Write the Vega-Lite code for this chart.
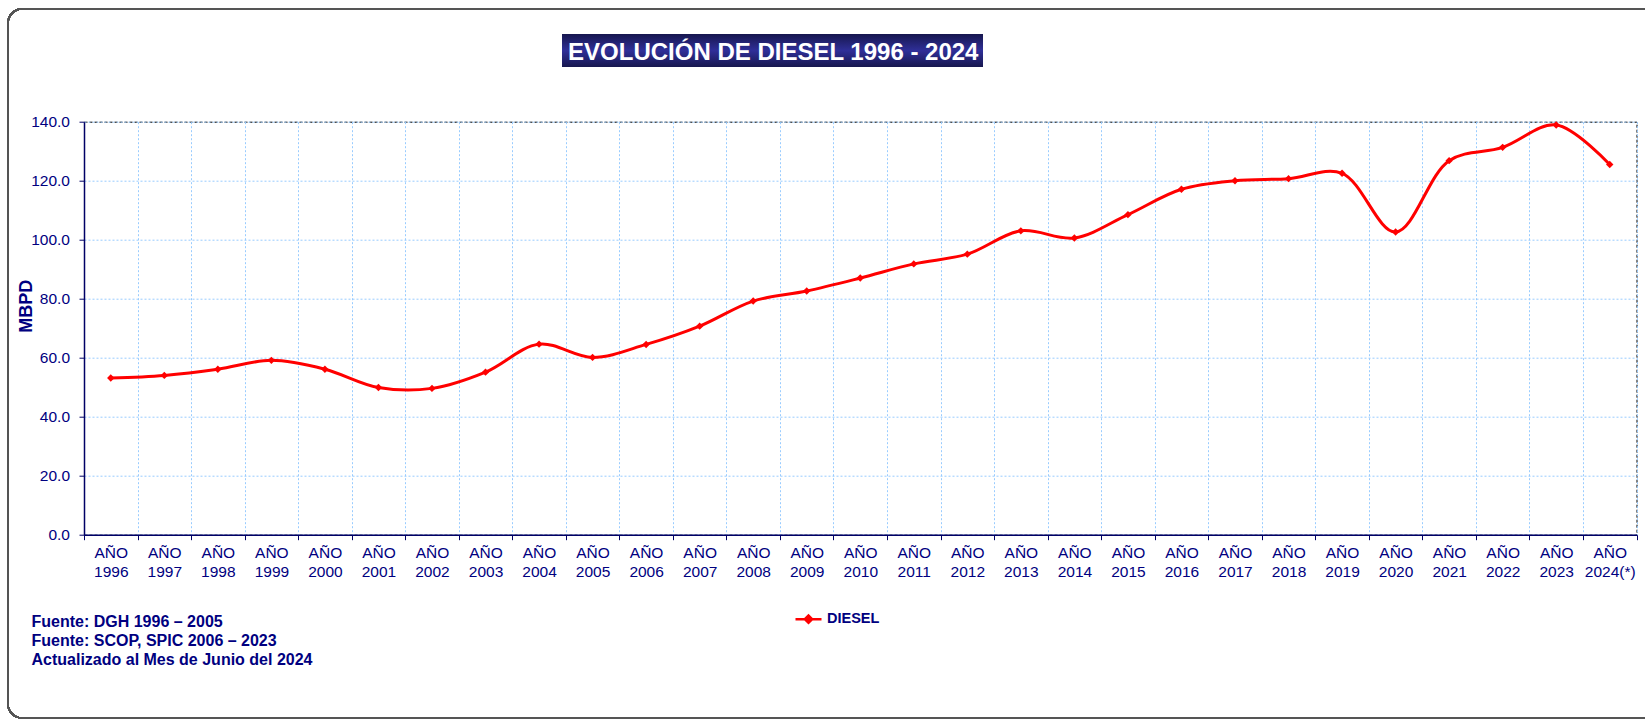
{
  "$schema": "https://vega.github.io/schema/vega-lite/v6.json",
  "width": 1552.5,
  "height": 413,
  "autosize": {"type": "none"},
  "padding": {"left": 84, "top": 121.7, "right": 8.5, "bottom": 186.3},
  "background": "white",
  "config": {
    "font": "Liberation Sans",
    "view": {"stroke": "#000000", "strokeDash": [3, 2], "strokeWidth": 1}
  },
  "title": {
    "text": "EVOLUCIÓN DE DIESEL 1996 - 2024",
    "font": "Liberation Sans",
    "fontSize": 24,
    "fontWeight": "bold",
    "color": "#ffffff",
    "anchor": "middle",
    "baseline": "bottom",
    "dx": -87,
    "offset": -80.7,
    "zindex": 1
  },
  "data": {
    "values": [
      {"anio": "1996", "valor": 53.1, "serie": "DIESEL"},
      {"anio": "1997", "valor": 54.0, "serie": "DIESEL"},
      {"anio": "1998", "valor": 56.1, "serie": "DIESEL"},
      {"anio": "1999", "valor": 59.1, "serie": "DIESEL"},
      {"anio": "2000", "valor": 56.1, "serie": "DIESEL"},
      {"anio": "2001", "valor": 49.9, "serie": "DIESEL"},
      {"anio": "2002", "valor": 49.6, "serie": "DIESEL"},
      {"anio": "2003", "valor": 55.1, "serie": "DIESEL"},
      {"anio": "2004", "valor": 64.6, "serie": "DIESEL"},
      {"anio": "2005", "valor": 60.1, "serie": "DIESEL"},
      {"anio": "2006", "valor": 64.5, "serie": "DIESEL"},
      {"anio": "2007", "valor": 70.7, "serie": "DIESEL"},
      {"anio": "2008", "valor": 79.2, "serie": "DIESEL"},
      {"anio": "2009", "valor": 82.6, "serie": "DIESEL"},
      {"anio": "2010", "valor": 87.0, "serie": "DIESEL"},
      {"anio": "2011", "valor": 91.8, "serie": "DIESEL"},
      {"anio": "2012", "valor": 95.1, "serie": "DIESEL"},
      {"anio": "2013", "valor": 103.0, "serie": "DIESEL"},
      {"anio": "2014", "valor": 100.6, "serie": "DIESEL"},
      {"anio": "2015", "valor": 108.5, "serie": "DIESEL"},
      {"anio": "2016", "valor": 117.1, "serie": "DIESEL"},
      {"anio": "2017", "valor": 120.0, "serie": "DIESEL"},
      {"anio": "2018", "valor": 120.7, "serie": "DIESEL"},
      {"anio": "2019", "valor": 122.5, "serie": "DIESEL"},
      {"anio": "2020", "valor": 102.6, "serie": "DIESEL"},
      {"anio": "2021", "valor": 126.8, "serie": "DIESEL"},
      {"anio": "2022", "valor": 131.3, "serie": "DIESEL"},
      {"anio": "2023", "valor": 138.9, "serie": "DIESEL"},
      {"anio": "2024(*)", "valor": 125.5, "serie": "DIESEL"}
    ]
  },
  "layer": [
    {
      "mark": {"type": "rect", "fill": "transparent", "stroke": "#555555", "strokeWidth": 1.5, "cornerRadius": 14},
      "encoding": {
        "x": {"datum": 1994.08, "type": "quantitative", "scale": {"domain": [1995.5, 2024.5], "nice": false, "zero": false}, "axis": null},
        "x2": {"datum": 2026},
        "y": {"datum": 178.2, "type": "quantitative", "scale": {"domain": [0, 140]}},
        "y2": {"datum": -62.1}
      }
    },
    {
      "mark": {
        "type": "rect",
        "fill": {
          "gradient": "linear", "x1": 0, "y1": 0, "x2": 0, "y2": 1,
          "stops": [
            {"offset": 0, "color": "#17174f"},
            {"offset": 0.5, "color": "#2f2f98"},
            {"offset": 1, "color": "#17174f"}
          ]
        }
      },
      "encoding": {
        "x": {"datum": 2004.442, "type": "quantitative", "scale": {"domain": [1995.5, 2024.5], "nice": false, "zero": false}, "axis": null},
        "x2": {"datum": 2012.287},
        "y": {"datum": 169.65, "type": "quantitative", "scale": {"domain": [0, 140]}},
        "y2": {"datum": 158.57}
      }
    },
    {
      "encoding": {
        "x": {
          "field": "anio",
          "type": "nominal",
          "sort": null,
          "scale": {"type": "band", "paddingInner": 0, "paddingOuter": 0},
          "axis": {
            "title": ["Fuente: DGH 1996 – 2005", "Fuente: SCOP, SPIC 2006 – 2023", "Actualizado al Mes de Junio del 2024"],
            "titleX": -53,
            "titleY": 92,
            "titleAlign": "left",
            "titleAnchor": "start",
            "titleBaseline": "alphabetic",
            "titleFont": "Liberation Sans",
            "titleFontSize": 16,
            "titleFontWeight": "bold",
            "titleColor": "#000080",
            "titleLineHeight": 18.7,
            "tickBand": "extent",
            "labelAngle": 0,
            "labelExpr": "isValid(datum.value) && datum.value != '' ? ['AÑO', datum.value] : ''",
            "labelFont": "Liberation Sans",
            "labelFontSize": 15.5,
            "labelColor": "#000080",
            "labelLineHeight": 18.4,
            "labelBaseline": "top",
            "labelPadding": 6,
            "labelOverlap": false,
            "labelFlush": false,
            "labelBound": false,
            "tickSize": 5,
            "tickColor": "#000066",
            "domainColor": "#000066",
            "domainWidth": 1.5,
            "grid": true,
            "gridColor": "#99ccff",
            "gridDash": [2, 2],
            "gridWidth": 1
          }
        },
        "y": {
          "field": "valor",
          "type": "quantitative",
          "scale": {"domain": [0, 140], "nice": false},
          "axis": {
            "title": "MBPD",
            "titleX": -57.7,
            "titleY": 184,
            "titleAlign": "center",
            "titleBaseline": "middle",
            "titleAngle": -90,
            "titleFont": "Liberation Sans",
            "titleFontSize": 18,
            "titleFontWeight": "bold",
            "titleColor": "#000080",
            "values": [0, 20, 40, 60, 80, 100, 120, 140],
            "format": ".1f",
            "labelFont": "Liberation Sans",
            "labelFontSize": 15.5,
            "labelColor": "#000080",
            "labelPadding": 9.5,
            "tickSize": 5,
            "tickColor": "#000066",
            "domainColor": "#000066",
            "domainWidth": 1.5,
            "grid": true,
            "gridColor": "#99ccff",
            "gridDash": [2, 2],
            "gridWidth": 1
          }
        }
      },
      "layer": [
        {
          "mark": {"type": "line", "interpolate": "catmull-rom", "strokeWidth": 3},
          "encoding": {
            "color": {
              "field": "serie",
              "type": "nominal",
              "scale": {"domain": ["DIESEL"], "range": ["#ff0000"]},
              "legend": {
                "orient": "none",
                "legendX": 710,
                "legendY": 483,
                "title": null,
                "padding": 0,
                "symbolType": "M-1,0H1M-0.28,0L0,-0.28L0.28,0L0,0.28Z",
                "symbolSize": 676,
                "symbolStrokeWidth": 2.5,
                "symbolFillColor": "#ff0000",
                "labelFont": "Liberation Sans",
                "labelFontSize": 14.5,
                "labelFontWeight": "bold",
                "labelColor": "#000080",
                "labelOffset": 4
              }
            }
          }
        },
        {
          "mark": {"type": "point", "shape": "diamond", "filled": true, "size": 55, "color": "#ff0000", "opacity": 1}
        }
      ]
    }
  ],
  "resolve": {"scale": {"x": "independent"}}
}
